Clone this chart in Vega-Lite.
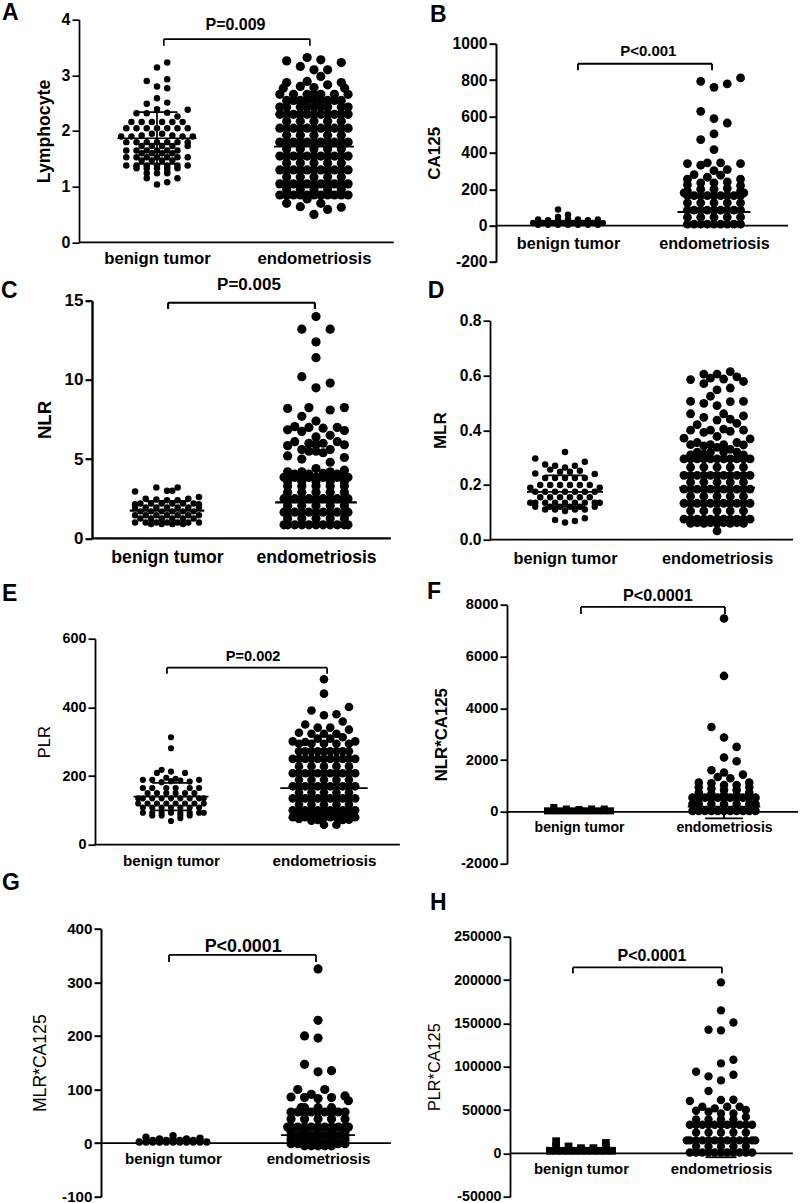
{"$schema":"https://vega.github.io/schema/vega-lite/v6.json","padding":{"left":0,"top":1.7,"right":0,"bottom":0},"background":"white","spacing":25,
"config":{"view":{"stroke":null},"axis":{"grid":false,"labelFont":"Liberation Sans","titleFont":"Liberation Sans","labelFontWeight":"bold","titleFontWeight":"bold","labelColor":"black","titleColor":"black","domainColor":"black","tickColor":"black","labelOverlap":false,"labelFlush":false,"labelBound":false,"labelAngle":0,"tickSize":7,"labelPadding":2,"titleAngle":-90,"titleBaseline":"middle"},"text":{"font":"Liberation Sans","fontWeight":"bold","color":"black"},"circle":{"color":"black","opacity":1},"square":{"color":"black","opacity":1},"rule":{"color":"black"}},
"hconcat":[
{"bounds":"flush","spacing":0,"vconcat":[
{"width":324,"height":222.6,"encoding":{"x":{"field":"x","type":"quantitative","scale":{"domain":[-23.44,71.5],"nice":false,"zero":false},"axis":{"title":null,"domain":false,"ticks":false,"values":[0,46],"labelExpr":"datum.value==0?'benign tumor':'endometriosis'","labelFontSize":16.7,"labelPadding":8}},"y":{"field":"y","type":"quantitative","scale":{"domain":[0,4],"nice":false,"zero":false},"axis":{"title":"Lymphocyte","values":[0,1,2,3,4],"labelExpr":"''+datum.value","offset":-2,"titleX":-35,"titleFontSize":17.7,"labelFontSize":16,"domainWidth":1.7,"tickWidth":1.7}}},"layer":[
{"mark":{"type":"circle","size":42},"data":{"values":[{"x":3,"y":3.23},{"x":0,"y":3.14},{"x":-3,"y":2.9},{"x":3,"y":2.93},{"x":0,"y":2.8},{"x":3,"y":2.77},{"x":0,"y":2.59},{"x":-3,"y":2.49},{"x":3,"y":2.51},{"x":0,"y":2.39},{"x":9,"y":2.38},{"x":-6,"y":2.32},{"x":-3,"y":2.32},{"x":3,"y":2.33},{"x":6,"y":2.26},{"x":-7.5,"y":2.16},{"x":-4.5,"y":2.16},{"x":-1.5,"y":2.16},{"x":1.5,"y":2.16},{"x":4.5,"y":2.16},{"x":7.5,"y":2.16},{"x":-9,"y":2.05},{"x":-6,"y":2.05},{"x":-3,"y":2.05},{"x":0,"y":2.05},{"x":3,"y":2.05},{"x":6,"y":2.05},{"x":9,"y":2.05},{"x":-10.5,"y":1.9},{"x":-7.5,"y":1.9},{"x":-4.5,"y":1.92},{"x":-1.5,"y":1.95},{"x":1.5,"y":1.95},{"x":4.5,"y":1.92},{"x":7.5,"y":1.9},{"x":10.5,"y":1.9},{"x":-9,"y":1.8},{"x":-6,"y":1.8},{"x":-3,"y":1.8},{"x":0,"y":1.8},{"x":3,"y":1.8},{"x":6,"y":1.8},{"x":9,"y":1.8},{"x":-4.5,"y":1.73},{"x":-1.5,"y":1.73},{"x":1.5,"y":1.73},{"x":4.5,"y":1.73},{"x":9,"y":1.73},{"x":-9,"y":1.65},{"x":-6,"y":1.65},{"x":-3,"y":1.65},{"x":0,"y":1.65},{"x":3,"y":1.65},{"x":6,"y":1.65},{"x":-4.5,"y":1.6},{"x":-1.5,"y":1.6},{"x":1.5,"y":1.6},{"x":4.5,"y":1.6},{"x":-9,"y":1.53},{"x":-6,"y":1.53},{"x":-3,"y":1.53},{"x":0,"y":1.53},{"x":3,"y":1.53},{"x":6,"y":1.53},{"x":9,"y":1.53},{"x":-4.5,"y":1.47},{"x":-1.5,"y":1.47},{"x":1.5,"y":1.47},{"x":4.5,"y":1.47},{"x":-9,"y":1.38},{"x":-6,"y":1.38},{"x":-3,"y":1.38},{"x":0,"y":1.38},{"x":3,"y":1.38},{"x":6,"y":1.38},{"x":9,"y":1.38},{"x":-6,"y":1.33},{"x":-3,"y":1.33},{"x":0,"y":1.33},{"x":3,"y":1.33},{"x":6,"y":1.33},{"x":-3,"y":1.24},{"x":0,"y":1.24},{"x":3,"y":1.24},{"x":-3,"y":1.15},{"x":3,"y":1.27},{"x":6,"y":1.15},{"x":3,"y":1.08},{"x":0,"y":1.04}]}},
{"mark":{"type":"circle","size":85},"data":{"values":[{"x":38,"y":3.26},{"x":44,"y":3.32},{"x":48,"y":3.28},{"x":54,"y":3.23},{"x":42,"y":3.16},{"x":46,"y":3.1},{"x":50,"y":3.1},{"x":48,"y":2.98},{"x":44,"y":2.89},{"x":38,"y":2.87},{"x":54,"y":2.87},{"x":42,"y":2.8},{"x":46,"y":2.78},{"x":50,"y":2.83},{"x":37,"y":2.77},{"x":55,"y":2.77},{"x":36,"y":2.66},{"x":56,"y":2.66},{"x":40,"y":2.66},{"x":52,"y":2.66},{"x":44,"y":2.66},{"x":48,"y":2.66},{"x":46,"y":2.66},{"x":42,"y":2.55},{"x":50,"y":2.55},{"x":46,"y":2.55},{"x":38,"y":2.55},{"x":54,"y":2.55},{"x":44,"y":2.43},{"x":48,"y":2.43},{"x":42,"y":2.43},{"x":50,"y":2.43},{"x":38,"y":2.43},{"x":54,"y":2.43},{"x":46,"y":2.43},{"x":38,"y":0.7},{"x":42,"y":0.64},{"x":48,"y":0.7},{"x":50,"y":0.59},{"x":54,"y":0.63},{"x":46,"y":0.5},{"x":44,"y":0.78},{"x":40,"y":2.55},{"x":44,"y":2.55},{"x":48,"y":2.55},{"x":52,"y":2.55},{"x":36,"y":2.43},{"x":56,"y":2.43},
{"x":36,"y":0.85},{"x":38,"y":0.85},{"x":40,"y":0.85},{"x":42,"y":0.85},{"x":44,"y":0.85},{"x":46,"y":0.85},{"x":48,"y":0.85},{"x":50,"y":0.85},{"x":52,"y":0.85},{"x":54,"y":0.85},{"x":56,"y":0.85},
{"x":36,"y":1.05},{"x":38,"y":1.05},{"x":40,"y":1.05},{"x":42,"y":1.05},{"x":44,"y":1.05},{"x":46,"y":1.05},{"x":48,"y":1.05},{"x":50,"y":1.05},{"x":52,"y":1.05},{"x":54,"y":1.05},{"x":56,"y":1.05},
{"x":36,"y":1.3},{"x":38,"y":1.3},{"x":40,"y":1.3},{"x":42,"y":1.3},{"x":44,"y":1.3},{"x":46,"y":1.3},{"x":48,"y":1.3},{"x":50,"y":1.3},{"x":52,"y":1.3},{"x":54,"y":1.3},{"x":56,"y":1.3},
{"x":36,"y":1.55},{"x":38,"y":1.55},{"x":40,"y":1.55},{"x":42,"y":1.55},{"x":44,"y":1.55},{"x":46,"y":1.55},{"x":48,"y":1.55},{"x":50,"y":1.55},{"x":52,"y":1.55},{"x":54,"y":1.55},{"x":56,"y":1.55},
{"x":36,"y":1.8},{"x":38,"y":1.8},{"x":40,"y":1.8},{"x":42,"y":1.8},{"x":44,"y":1.8},{"x":46,"y":1.8},{"x":48,"y":1.8},{"x":50,"y":1.8},{"x":52,"y":1.8},{"x":54,"y":1.8},{"x":56,"y":1.8},
{"x":36,"y":2.05},{"x":38,"y":2.05},{"x":40,"y":2.05},{"x":42,"y":2.05},{"x":44,"y":2.05},{"x":46,"y":2.05},{"x":48,"y":2.05},{"x":50,"y":2.05},{"x":52,"y":2.05},{"x":54,"y":2.05},{"x":56,"y":2.05},
{"x":36,"y":2.3},{"x":38,"y":2.3},{"x":40,"y":2.3},{"x":42,"y":2.3},{"x":44,"y":2.3},{"x":46,"y":2.3},{"x":48,"y":2.3},{"x":50,"y":2.3},{"x":52,"y":2.3},{"x":54,"y":2.3},{"x":56,"y":2.3},
{"x":38,"y":0.95},{"x":42,"y":0.95},{"x":46,"y":0.95},{"x":50,"y":0.95},{"x":54,"y":0.95},{"x":38,"y":1.175},{"x":42,"y":1.175},{"x":46,"y":1.175},{"x":50,"y":1.175},{"x":54,"y":1.175},{"x":38,"y":1.425},{"x":42,"y":1.425},{"x":46,"y":1.425},{"x":50,"y":1.425},{"x":54,"y":1.425},{"x":38,"y":1.675},{"x":42,"y":1.675},{"x":46,"y":1.675},{"x":50,"y":1.675},{"x":54,"y":1.675},{"x":38,"y":1.925},{"x":42,"y":1.925},{"x":46,"y":1.925},{"x":50,"y":1.925},{"x":54,"y":1.925},{"x":38,"y":2.175},{"x":42,"y":2.175},{"x":46,"y":2.175},{"x":50,"y":2.175},{"x":54,"y":2.175}]}},
{"mark":{"type":"rule","strokeWidth":1.7},"encoding":{"x2":{"field":"x2"},"y2":{"field":"y2"}},"data":{"values":[{"x":-22.85,"x2":69.4,"y":0,"y2":0},{"x":-11.6,"x2":11.6,"y":1.87,"y2":1.87},{"x":-6,"x2":6,"y":2.34,"y2":2.34},{"x":-6,"x2":6,"y":1.41,"y2":1.41},{"x":0,"x2":0,"y":1.41,"y2":2.34},{"x":34.3,"x2":57.7,"y":1.72,"y2":1.72},{"x":2,"x2":44.8,"y":3.65,"y2":3.65},{"x":2,"x2":2,"y":3.65,"y2":3.53},{"x":44.8,"x2":44.8,"y":3.65,"y2":3.53}]}},
{"mark":{"type":"text","fontSize":16,"align":"center","baseline":"alphabetic"},"encoding":{"text":{"field":"t"}},"data":{"values":[{"x":23,"y":3.815,"t":"P=0.009"}]}},
{"mark":{"type":"text","fontSize":23,"align":"left","baseline":"alphabetic"},"encoding":{"text":{"field":"t"}},"data":{"values":[{"x":-45.4,"y":3.995,"t":"A"}]}}
]},
{"width":1,"height":57.4,"data":{"values":[{"t":""}]},"mark":{"type":"text"},"encoding":{"text":{"field":"t"}}},
{"width":324,"height":237.6,"encoding":{"x":{"field":"x","type":"quantitative","scale":{"domain":[-25.37,65.96],"nice":false,"zero":false},"axis":{"title":null,"domain":false,"ticks":false,"values":[0,42],"labelExpr":"datum.value==0?'benign tumor':'endometriosis'","labelFontSize":17.6,"labelPadding":10}},"y":{"field":"y","type":"quantitative","scale":{"domain":[0,15],"nice":false,"zero":false},"axis":{"title":"NLR","values":[0,5,10,15],"labelExpr":"''+datum.value","offset":-15,"titleX":-48,"titleFontSize":18.6,"labelFontSize":17,"domainWidth":2.4,"tickWidth":2.2}}},"layer":[
{"mark":{"type":"circle","size":42},"data":{"values":[{"x":-3,"y":3.2},{"x":3,"y":3.2},{"x":0,"y":3},{"x":1.5,"y":3},{"x":-9,"y":2.95},{"x":-9,"y":2.15},{"x":9,"y":2.6},{"x":-6,"y":2.5},{"x":6,"y":2.5},{"x":-3,"y":2.45},{"x":0,"y":2.4},{"x":3,"y":2.4},{"x":9,"y":2.15},{"x":-7.5,"y":2.2},{"x":-4.5,"y":2.2},{"x":-1.5,"y":2.2},{"x":1.5,"y":2.2},{"x":4.5,"y":2.2},{"x":7.5,"y":2.2},{"x":-9,"y":1.95},{"x":-6,"y":1.95},{"x":-3,"y":1.95},{"x":0,"y":1.95},{"x":3,"y":1.95},{"x":6,"y":1.95},{"x":9,"y":1.95},{"x":-7.5,"y":1.7},{"x":-4.5,"y":1.7},{"x":-1.5,"y":1.7},{"x":1.5,"y":1.7},{"x":4.5,"y":1.7},{"x":7.5,"y":1.7},{"x":-9,"y":1.45},{"x":-6,"y":1.45},{"x":-3,"y":1.45},{"x":0,"y":1.45},{"x":3,"y":1.45},{"x":6,"y":1.45},{"x":9,"y":1.45},{"x":-7.5,"y":1.25},{"x":-4.5,"y":1.25},{"x":-1.5,"y":1.25},{"x":1.5,"y":1.25},{"x":4.5,"y":1.25},{"x":7.5,"y":1.25},{"x":-9,"y":1},{"x":-6,"y":1},{"x":-3,"y":1},{"x":0,"y":1},{"x":3,"y":1},{"x":6,"y":1},{"x":9,"y":1},{"x":-4.5,"y":0.9},{"x":-1.5,"y":0.9},{"x":1.5,"y":0.9},{"x":4.5,"y":0.9}]}},
{"mark":{"type":"circle","size":85},"data":{"values":[{"x":42,"y":14},{"x":38,"y":13.2},{"x":46,"y":13.2},{"x":42,"y":12.4},{"x":42,"y":11.4},{"x":38,"y":10.2},{"x":46,"y":9.8},{"x":42,"y":9.5},{"x":34,"y":8.2},{"x":40,"y":8.25},{"x":46,"y":8.1},{"x":50,"y":8.25},{"x":38,"y":7.7},{"x":42,"y":7.4},{"x":36,"y":7.05},{"x":34,"y":6.85},{"x":40,"y":7},{"x":44,"y":6.95},{"x":48,"y":7},{"x":50,"y":6.8},{"x":38,"y":6.75},{"x":46,"y":6.5},{"x":42,"y":6.4},{"x":36,"y":6.1},{"x":48,"y":6.1},{"x":40,"y":6},{"x":44,"y":6},{"x":34,"y":5.85},{"x":50,"y":5.9},{"x":42,"y":5.9},{"x":38,"y":5.6},{"x":46,"y":5.6},{"x":44,"y":5.4},{"x":40,"y":5.5},{"x":34,"y":5.2},{"x":50,"y":5.1},{"x":42,"y":5.5},{"x":38,"y":5},{"x":46,"y":4.8},{"x":34,"y":4.2},{"x":38,"y":4.2},{"x":42,"y":4.4},{"x":46,"y":4.2},{"x":50,"y":4.3},{"x":36,"y":4.05},{"x":40,"y":4.05},{"x":44,"y":4.1},{"x":48,"y":4.05},
{"x":33,"y":0.85},{"x":34,"y":0.85},{"x":36,"y":0.85},{"x":38,"y":0.85},{"x":40,"y":0.85},{"x":42,"y":0.85},{"x":44,"y":0.85},{"x":46,"y":0.85},{"x":48,"y":0.85},{"x":50,"y":0.85},{"x":51,"y":0.85},
{"x":33,"y":1.65},{"x":34,"y":1.65},{"x":36,"y":1.65},{"x":38,"y":1.65},{"x":40,"y":1.65},{"x":42,"y":1.65},{"x":44,"y":1.65},{"x":46,"y":1.65},{"x":48,"y":1.65},{"x":50,"y":1.65},{"x":51,"y":1.65},
{"x":33,"y":2.5},{"x":34,"y":2.5},{"x":36,"y":2.5},{"x":38,"y":2.5},{"x":40,"y":2.5},{"x":42,"y":2.5},{"x":44,"y":2.5},{"x":46,"y":2.5},{"x":48,"y":2.5},{"x":50,"y":2.5},{"x":51,"y":2.5},
{"x":33,"y":3.85},{"x":34,"y":3.85},{"x":36,"y":3.85},{"x":38,"y":3.85},{"x":40,"y":3.85},{"x":42,"y":3.85},{"x":44,"y":3.85},{"x":46,"y":3.85},{"x":48,"y":3.85},{"x":50,"y":3.85},{"x":51,"y":3.85},
{"x":34,"y":1.25},{"x":38,"y":1.25},{"x":42,"y":1.25},{"x":46,"y":1.25},{"x":50,"y":1.25},{"x":34,"y":2.05},{"x":38,"y":2.05},{"x":42,"y":2.05},{"x":46,"y":2.05},{"x":50,"y":2.05},{"x":34,"y":2.9},{"x":38,"y":2.9},{"x":42,"y":2.9},{"x":46,"y":2.9},{"x":50,"y":2.9},{"x":34,"y":3.3},{"x":38,"y":3.3},{"x":42,"y":3.3},{"x":46,"y":3.3},{"x":50,"y":3.3},{"x":34,"y":3.6},{"x":38,"y":3.6},{"x":42,"y":3.6},{"x":46,"y":3.6},{"x":50,"y":3.6}]}},
{"mark":{"type":"rule","strokeWidth":2.2},"encoding":{"x2":{"field":"x2"},"y2":{"field":"y2"}},"data":{"values":[{"x":-21.1,"x2":63.1,"y":0,"y2":0},{"x":-10.5,"x2":10.5,"y":1.75,"y2":1.75},{"x":-6,"x2":6,"y":2.35,"y2":2.35},{"x":30.5,"x2":53.5,"y":2.27,"y2":2.27},{"x":0.3,"x2":41.7,"y":14.87,"y2":14.87},{"x":0.3,"x2":0.3,"y":14.87,"y2":14.48},{"x":41.7,"x2":41.7,"y":14.87,"y2":14.48}]}},
{"mark":{"type":"text","fontSize":17,"align":"center","baseline":"alphabetic"},"encoding":{"text":{"field":"t"}},"data":{"values":[{"x":23.1,"y":15.67,"t":"P=0.005"}]}},
{"mark":{"type":"text","fontSize":23,"align":"left","baseline":"alphabetic"},"encoding":{"text":{"field":"t"}},"data":{"values":[{"x":-46.8,"y":15.17,"t":"C"}]}}
]},
{"width":1,"height":99.7,"data":{"values":[{"t":""}]},"mark":{"type":"text"},"encoding":{"text":{"field":"t"}}},
{"width":324,"height":206,"encoding":{"x":{"field":"x","type":"quantitative","scale":{"domain":[-30.1,73.67],"nice":false,"zero":false},"axis":{"title":null,"domain":false,"ticks":false,"values":[0,49],"labelExpr":"datum.value==0?'benign tumor':'endometriosis'","labelFontSize":15.2,"labelPadding":9}},"y":{"field":"y","type":"quantitative","scale":{"domain":[0,600],"nice":false,"zero":false},"axis":{"title":"PLR","values":[0,200,400,600],"labelExpr":"''+datum.value","offset":-18,"titleX":-51,"titleFontSize":16.5,"titleFontWeight":"normal","labelFontSize":14.4,"domainWidth":1.8,"tickWidth":1.8}}},"layer":[
{"mark":{"type":"circle","size":38},"data":{"values":[{"x":0,"y":313},{"x":0,"y":281},{"x":-3,"y":218},{"x":-4.5,"y":209},{"x":0,"y":213},{"x":4.5,"y":209},{"x":-9,"y":189},{"x":-6,"y":189},{"x":9,"y":189},{"x":-1.5,"y":195},{"x":1.5,"y":192},{"x":6,"y":184},{"x":3,"y":187},{"x":-3,"y":182},{"x":0,"y":185},{"x":-9,"y":165},{"x":-6,"y":165},{"x":-1.5,"y":165},{"x":1.5,"y":165},{"x":6,"y":165},{"x":9,"y":165},{"x":-7.5,"y":150},{"x":-4.5,"y":150},{"x":-1.5,"y":150},{"x":1.5,"y":150},{"x":4.5,"y":150},{"x":7.5,"y":150},{"x":-10.5,"y":135},{"x":-9,"y":135},{"x":-6,"y":135},{"x":-3,"y":135},{"x":0,"y":135},{"x":3,"y":135},{"x":6,"y":135},{"x":9,"y":135},{"x":10.5,"y":135},{"x":-10.5,"y":120},{"x":-7.5,"y":120},{"x":-4.5,"y":120},{"x":-1.5,"y":120},{"x":1.5,"y":120},{"x":4.5,"y":120},{"x":7.5,"y":120},{"x":10.5,"y":120},{"x":-9,"y":108},{"x":-6,"y":108},{"x":-3,"y":108},{"x":0,"y":108},{"x":3,"y":108},{"x":6,"y":108},{"x":9,"y":108},{"x":-9,"y":93},{"x":-6,"y":93},{"x":-3,"y":93},{"x":0,"y":93},{"x":3,"y":93},{"x":6,"y":93},{"x":9,"y":93},{"x":10.5,"y":93},{"x":-6,"y":85},{"x":-3,"y":85},{"x":3,"y":85},{"x":6,"y":85},{"x":0,"y":69},{"x":3,"y":77}]}},
{"mark":{"type":"circle","size":74},"data":{"values":[{"x":49,"y":482},{"x":49,"y":440},{"x":45,"y":391},{"x":57,"y":401},{"x":49,"y":377},{"x":53,"y":380},{"x":55,"y":359},{"x":43,"y":350},{"x":47,"y":341},{"x":51,"y":341},{"x":57,"y":335},{"x":41,"y":326},{"x":45,"y":323},{"x":53,"y":323},{"x":49,"y":323},{"x":55,"y":313},{"x":51,"y":309},{"x":47,"y":309},{"x":39,"y":301},{"x":43,"y":299},{"x":59,"y":301},{"x":57,"y":294},{"x":41,"y":294},{"x":45,"y":294},{"x":53,"y":294},{"x":49,"y":294},{"x":45,"y":70},{"x":49,"y":58},{"x":53,"y":58},{"x":41,"y":75},{"x":57,"y":73},{"x":47,"y":72},{"x":55,"y":72},{"x":43,"y":272},{"x":47,"y":272},{"x":51,"y":272},{"x":55,"y":272},
{"x":39,"y":80},{"x":41,"y":80},{"x":43,"y":80},{"x":45,"y":80},{"x":47,"y":80},{"x":49,"y":80},{"x":51,"y":80},{"x":53,"y":80},{"x":55,"y":80},{"x":57,"y":80},{"x":59,"y":80},
{"x":39,"y":100},{"x":41,"y":100},{"x":43,"y":100},{"x":45,"y":100},{"x":47,"y":100},{"x":49,"y":100},{"x":51,"y":100},{"x":53,"y":100},{"x":55,"y":100},{"x":57,"y":100},{"x":59,"y":100},
{"x":39,"y":135},{"x":41,"y":135},{"x":43,"y":135},{"x":45,"y":135},{"x":47,"y":135},{"x":49,"y":135},{"x":51,"y":135},{"x":53,"y":135},{"x":55,"y":135},{"x":57,"y":135},{"x":59,"y":135},
{"x":39,"y":170},{"x":41,"y":170},{"x":43,"y":170},{"x":45,"y":170},{"x":47,"y":170},{"x":49,"y":170},{"x":51,"y":170},{"x":53,"y":170},{"x":55,"y":170},{"x":57,"y":170},{"x":59,"y":170},
{"x":39,"y":208},{"x":41,"y":208},{"x":43,"y":208},{"x":45,"y":208},{"x":47,"y":208},{"x":49,"y":208},{"x":51,"y":208},{"x":53,"y":208},{"x":55,"y":208},{"x":57,"y":208},{"x":59,"y":208},
{"x":39,"y":250},{"x":41,"y":250},{"x":43,"y":250},{"x":45,"y":250},{"x":47,"y":250},{"x":49,"y":250},{"x":51,"y":250},{"x":53,"y":250},{"x":55,"y":250},{"x":57,"y":250},{"x":59,"y":250},
{"x":41,"y":90},{"x":45,"y":90},{"x":49,"y":90},{"x":53,"y":90},{"x":57,"y":90},{"x":41,"y":117},{"x":45,"y":117},{"x":49,"y":117},{"x":53,"y":117},{"x":57,"y":117},{"x":41,"y":152},{"x":45,"y":152},{"x":49,"y":152},{"x":53,"y":152},{"x":57,"y":152},{"x":41,"y":189},{"x":45,"y":189},{"x":49,"y":189},{"x":53,"y":189},{"x":57,"y":189},{"x":41,"y":228},{"x":45,"y":228},{"x":49,"y":228},{"x":53,"y":228},{"x":57,"y":228},{"x":41,"y":272},{"x":45,"y":272},{"x":49,"y":272},{"x":53,"y":272},{"x":57,"y":272}]}},
{"mark":{"type":"rule","strokeWidth":1.8},"encoding":{"x2":{"field":"x2"},"y2":{"field":"y2"}},"data":{"values":[{"x":-24.3,"x2":73.3,"y":0,"y2":0},{"x":-12,"x2":12,"y":140,"y2":140},{"x":-6,"x2":6,"y":180,"y2":180},{"x":-6,"x2":6,"y":100,"y2":100},{"x":35,"x2":63,"y":165,"y2":165},{"x":-1.3,"x2":50,"y":515.6,"y2":515.6},{"x":-1.3,"x2":-1.3,"y":515.6,"y2":498},{"x":50,"x2":50,"y":515.6,"y2":498}]}},
{"mark":{"type":"text","fontSize":14.6,"align":"center","baseline":"alphabetic"},"encoding":{"text":{"field":"t"}},"data":{"values":[{"x":26.3,"y":536,"t":"P=0.002"}]}},
{"mark":{"type":"text","fontSize":23,"align":"left","baseline":"alphabetic"},"encoding":{"text":{"field":"t"}},"data":{"values":[{"x":-54.1,"y":710.7,"t":"E"}]}}
]},
{"width":1,"height":83.7,"data":{"values":[{"t":""}]},"mark":{"type":"text"},"encoding":{"text":{"field":"t"}}},
{"width":324,"height":268,"encoding":{"x":{"field":"x","type":"quantitative","scale":{"domain":[-28.47,67.6],"nice":false,"zero":false},"axis":{"title":null,"domain":false,"ticks":false,"values":[0,43],"labelExpr":"datum.value==0?'benign tumor':'endometriosis'","labelFontSize":15.2,"labelPadding":9,"offset":-53.7}},"y":{"field":"y","type":"quantitative","scale":{"domain":[-100,400],"nice":false,"zero":false},"axis":{"title":"MLR*CA125","values":[-100,0,100,200,300,400],"labelExpr":"''+datum.value","offset":-24,"titleX":-61,"titleFontSize":17.6,"titleFontWeight":"normal","labelFontSize":15.2,"domainWidth":2,"tickWidth":2}}},"layer":[
{"mark":{"type":"circle","size":55},"data":{"values":[{"x":0,"y":14},{"x":-8,"y":11},{"x":-4,"y":7.5},{"x":4,"y":7.5},{"x":8,"y":9},{"x":-10,"y":2},{"x":-8,"y":2},{"x":-6,"y":2},{"x":-4,"y":2},{"x":-2,"y":2},{"x":0,"y":2},{"x":2,"y":2},{"x":4,"y":2},{"x":6,"y":2},{"x":8,"y":2},{"x":10,"y":2},{"x":-2,"y":5},{"x":2,"y":5},{"x":0,"y":7},{"x":-6,"y":5},{"x":6,"y":5}]}},
{"mark":{"type":"circle","size":85},"data":{"values":[{"x":43,"y":325},{"x":43,"y":229},{"x":39,"y":200},{"x":43,"y":196},{"x":39,"y":147},{"x":43,"y":133},{"x":47,"y":135},{"x":37,"y":100},{"x":45,"y":100},{"x":41,"y":91},{"x":51,"y":88},{"x":35,"y":86},{"x":39,"y":85},{"x":43,"y":83},{"x":47,"y":85},{"x":52,"y":79},{"x":38,"y":66},{"x":39,"y":66},{"x":43,"y":66},{"x":47,"y":66},{"x":41,"y":-5},{"x":43,"y":-5},{"x":45,"y":-5},{"x":39,"y":-5},{"x":47,"y":-5},
{"x":35,"y":-1},{"x":37,"y":-1},{"x":39,"y":-1},{"x":41,"y":-1},{"x":43,"y":-1},{"x":45,"y":-1},{"x":47,"y":-1},{"x":49,"y":-1},{"x":51,"y":-1},
{"x":35,"y":14},{"x":37,"y":14},{"x":39,"y":14},{"x":41,"y":14},{"x":43,"y":14},{"x":45,"y":14},{"x":47,"y":14},{"x":49,"y":14},{"x":51,"y":14},
{"x":34,"y":30},{"x":35,"y":30},{"x":37,"y":30},{"x":39,"y":30},{"x":41,"y":30},{"x":43,"y":30},{"x":45,"y":30},{"x":47,"y":30},{"x":49,"y":30},{"x":51,"y":30},{"x":52,"y":30},
{"x":35,"y":58},{"x":37,"y":58},{"x":39,"y":58},{"x":41,"y":58},{"x":43,"y":58},{"x":45,"y":58},{"x":47,"y":58},{"x":49,"y":58},{"x":51,"y":58},
{"x":35,"y":6},{"x":39,"y":6},{"x":43,"y":6},{"x":47,"y":6},{"x":51,"y":6},{"x":35,"y":22},{"x":39,"y":22},{"x":43,"y":22},{"x":47,"y":22},{"x":51,"y":22},{"x":35,"y":45},{"x":39,"y":45},{"x":43,"y":45},{"x":47,"y":45},{"x":51,"y":45}]}},
{"mark":{"type":"rule","strokeWidth":1.8},"encoding":{"x2":{"field":"x2"},"y2":{"field":"y2"}},"data":{"values":[{"x":-21.35,"x2":64.6,"y":0,"y2":0},{"x":-10,"x2":10,"y":2,"y2":2},{"x":32,"x2":54,"y":15,"y2":15},{"x":-1.2,"x2":42.4,"y":351,"y2":351},{"x":-1.2,"x2":-1.2,"y":351,"y2":338},{"x":42.4,"x2":42.4,"y":351,"y2":338}]}},
{"mark":{"type":"text","fontSize":17.9,"align":"center","baseline":"alphabetic"},"encoding":{"text":{"field":"t"}},"data":{"values":[{"x":20.8,"y":356,"t":"P<0.0001"}]}},
{"mark":{"type":"text","fontSize":23,"align":"left","baseline":"alphabetic"},"encoding":{"text":{"field":"t"}},"data":{"values":[{"x":-50.7,"y":472,"t":"G"}]}}
]}
]},
{"bounds":"flush","spacing":0,"vconcat":[
{"width":1,"height":23.3,"data":{"values":[{"t":""}]},"mark":{"type":"text"},"encoding":{"text":{"field":"t"}}},
{"width":312,"height":218.3,"encoding":{"x":{"field":"x","type":"quantitative","scale":{"domain":[-24.11,69.92],"nice":false,"zero":false},"axis":{"title":null,"domain":false,"ticks":false,"values":[0,44],"labelExpr":"datum.value==0?'benign tumor':'endometriosis'","labelFontSize":16.2,"labelPadding":10,"offset":-36.3}},"y":{"field":"y","type":"quantitative","scale":{"domain":[-200,1000],"nice":false,"zero":false},"axis":{"title":"CA125","values":[-200,0,200,400,600,800,1000],"labelExpr":"''+datum.value","offset":-8,"titleX":-61,"titleFontSize":17,"labelFontSize":15.7,"domainWidth":2,"tickWidth":2}}},"layer":[
{"mark":{"type":"circle","size":42},"data":{"values":[{"x":-3,"y":88},{"x":0,"y":60},{"x":-3,"y":48},{"x":-9,"y":33},{"x":-6,"y":29},{"x":0,"y":33},{"x":3,"y":33},{"x":6,"y":29},{"x":9,"y":33},{"x":-3,"y":30},{"x":-10.5,"y":14},{"x":-7.5,"y":14},{"x":-4.5,"y":14},{"x":-1.5,"y":14},{"x":1.5,"y":14},{"x":4.5,"y":14},{"x":7.5,"y":14},{"x":10.5,"y":14},{"x":-9,"y":5},{"x":-6,"y":5},{"x":-3,"y":5},{"x":0,"y":5},{"x":3,"y":5},{"x":6,"y":5},{"x":9,"y":5}]}},
{"mark":{"type":"circle","size":78},"data":{"values":[{"x":40,"y":793},{"x":44,"y":760},{"x":48,"y":779},{"x":52,"y":812},{"x":40,"y":628},{"x":44,"y":588},{"x":48,"y":564},{"x":44,"y":504},{"x":40,"y":473},{"x":44,"y":418},{"x":36,"y":341},{"x":40,"y":332},{"x":42,"y":345},{"x":46,"y":345},{"x":52,"y":341},{"x":44,"y":302},{"x":48,"y":308},{"x":38,"y":280},{"x":46,"y":277},{"x":42,"y":266},
{"x":36,"y":255},{"x":36,"y":225},{"x":36,"y":190},{"x":40,"y":235},{"x":40,"y":200},{"x":44,"y":235},{"x":44,"y":200},{"x":48,"y":240},{"x":48,"y":205},{"x":52,"y":255},{"x":52,"y":220},{"x":52,"y":190},{"x":35,"y":180},{"x":53,"y":180},
{"x":36,"y":8},{"x":38,"y":8},{"x":40,"y":8},{"x":42,"y":8},{"x":44,"y":8},{"x":46,"y":8},{"x":48,"y":8},{"x":50,"y":8},{"x":52,"y":8},
{"x":36,"y":85},{"x":38,"y":85},{"x":40,"y":85},{"x":42,"y":85},{"x":44,"y":85},{"x":46,"y":85},{"x":48,"y":85},{"x":50,"y":85},{"x":52,"y":85},
{"x":36,"y":165},{"x":38,"y":165},{"x":40,"y":165},{"x":42,"y":165},{"x":44,"y":165},{"x":46,"y":165},{"x":48,"y":165},{"x":50,"y":165},{"x":52,"y":165},
{"x":36,"y":46},{"x":40,"y":46},{"x":44,"y":46},{"x":48,"y":46},{"x":52,"y":46},{"x":36,"y":125},{"x":40,"y":125},{"x":44,"y":125},{"x":48,"y":125},{"x":52,"y":125}]}},
{"mark":{"type":"rule","strokeWidth":1.9},"encoding":{"x2":{"field":"x2"},"y2":{"field":"y2"}},"data":{"values":[{"x":-21.7,"x2":66.3,"y":0,"y2":0},{"x":-11,"x2":11,"y":18,"y2":18},{"x":33,"x2":55,"y":75,"y2":75},{"x":3,"x2":43.4,"y":890,"y2":890},{"x":3,"x2":3,"y":890,"y2":854},{"x":43.4,"x2":43.4,"y":890,"y2":854}]}},
{"mark":{"type":"text","fontSize":15,"align":"center","baseline":"alphabetic"},"encoding":{"text":{"field":"t"}},"data":{"values":[{"x":24.2,"y":931,"t":"P<0.001"}]}},
{"mark":{"type":"text","fontSize":23,"align":"left","baseline":"alphabetic"},"encoding":{"text":{"field":"t"}},"data":{"values":[{"x":-41.6,"y":1121,"t":"B"}]}}
]},
{"width":1,"height":57.7,"data":{"values":[{"t":""}]},"mark":{"type":"text"},"encoding":{"text":{"field":"t"}}},
{"width":312,"height":219,"encoding":{"x":{"field":"x","type":"quantitative","scale":{"domain":[-23.3,71.1],"nice":false,"zero":false},"axis":{"title":null,"domain":false,"ticks":false,"values":[0,46],"labelExpr":"datum.value==0?'benign tumor':'endometriosis'","labelFontSize":16.3,"labelPadding":11}},"y":{"field":"y","type":"quantitative","scale":{"domain":[0,0.8],"nice":false,"zero":false},"axis":{"title":"MLR","values":[0,0.2,0.4,0.6,0.8],"labelExpr":"format(datum.value,'.1f')","offset":-2,"titleX":-49,"titleFontSize":17,"labelFontSize":15.6,"domainWidth":1.8,"tickWidth":1.8}}},"layer":[
{"mark":{"type":"circle","size":42},"data":{"values":[{"x":0,"y":0.32},{"x":-9,"y":0.297},{"x":6,"y":0.285},{"x":-6,"y":0.275},{"x":-3,"y":0.27},{"x":3,"y":0.27},{"x":0,"y":0.264},{"x":-4.5,"y":0.256},{"x":4.5,"y":0.252},{"x":-1.5,"y":0.248},{"x":1.5,"y":0.248},{"x":-9,"y":0.242},{"x":9,"y":0.24},{"x":-6,"y":0.225},{"x":-3,"y":0.225},{"x":0,"y":0.225},{"x":3,"y":0.225},{"x":6,"y":0.225},{"x":-7.5,"y":0.2},{"x":-4.5,"y":0.2},{"x":-1.5,"y":0.2},{"x":1.5,"y":0.2},{"x":4.5,"y":0.2},{"x":7.5,"y":0.2},{"x":-10.5,"y":0.19},{"x":10.5,"y":0.19},{"x":-9,"y":0.175},{"x":-6,"y":0.175},{"x":-3,"y":0.175},{"x":0,"y":0.175},{"x":3,"y":0.175},{"x":6,"y":0.175},{"x":9,"y":0.175},{"x":-7.5,"y":0.155},{"x":-4.5,"y":0.155},{"x":-1.5,"y":0.155},{"x":1.5,"y":0.155},{"x":4.5,"y":0.155},{"x":7.5,"y":0.155},{"x":-10.5,"y":0.135},{"x":-9,"y":0.135},{"x":-6,"y":0.135},{"x":-3,"y":0.135},{"x":0,"y":0.135},{"x":3,"y":0.135},{"x":6,"y":0.135},{"x":9,"y":0.135},{"x":10.5,"y":0.135},{"x":-9,"y":0.12},{"x":-4.5,"y":0.12},{"x":-1.5,"y":0.12},{"x":1.5,"y":0.12},{"x":4.5,"y":0.12},{"x":9,"y":0.12},{"x":-6,"y":0.11},{"x":-3,"y":0.11},{"x":0,"y":0.105},{"x":3,"y":0.11},{"x":6,"y":0.11},{"x":-3,"y":0.072},{"x":0,"y":0.063},{"x":3,"y":0.068},{"x":6,"y":0.078}]}},
{"mark":{"type":"circle","size":78},"data":{"values":[{"x":38,"y":0.585},{"x":42,"y":0.605},{"x":46,"y":0.605},{"x":50,"y":0.614},{"x":44,"y":0.59},{"x":48,"y":0.587},{"x":52,"y":0.595},{"x":54,"y":0.578},{"x":42,"y":0.57},{"x":46,"y":0.547},{"x":50,"y":0.554},{"x":44,"y":0.524},{"x":38,"y":0.505},{"x":42,"y":0.498},{"x":46,"y":0.49},{"x":50,"y":0.504},{"x":54,"y":0.505},{"x":38,"y":0.46},{"x":42,"y":0.447},{"x":46,"y":0.437},{"x":48,"y":0.46},{"x":50,"y":0.44},{"x":54,"y":0.452},{"x":40,"y":0.42},{"x":52,"y":0.425},{"x":38,"y":0.4},{"x":42,"y":0.392},{"x":44,"y":0.4},{"x":48,"y":0.404},{"x":50,"y":0.396},{"x":54,"y":0.4},{"x":46,"y":0.377},{"x":36,"y":0.371},{"x":56,"y":0.368},{"x":40,"y":0.355},{"x":38,"y":0.347},{"x":42,"y":0.343},{"x":44,"y":0.347},{"x":52,"y":0.355},{"x":54,"y":0.346},{"x":48,"y":0.347},{"x":46,"y":0.337},{"x":50,"y":0.33},{"x":42,"y":0.313},{"x":38,"y":0.31},{"x":54,"y":0.31},{"x":46,"y":0.032},{"x":40,"y":0.32},{"x":44,"y":0.32},{"x":48,"y":0.32},{"x":52,"y":0.32},
{"x":38,"y":0.06},{"x":42,"y":0.06},{"x":46,"y":0.06},{"x":50,"y":0.06},{"x":54,"y":0.06},{"x":40,"y":0.062},{"x":44,"y":0.062},{"x":48,"y":0.062},{"x":52,"y":0.062},
{"x":36,"y":0.075},{"x":38,"y":0.075},{"x":40,"y":0.075},{"x":42,"y":0.075},{"x":44,"y":0.075},{"x":46,"y":0.075},{"x":48,"y":0.075},{"x":50,"y":0.075},{"x":52,"y":0.075},{"x":54,"y":0.075},{"x":56,"y":0.075},
{"x":36,"y":0.133},{"x":38,"y":0.133},{"x":40,"y":0.133},{"x":42,"y":0.133},{"x":44,"y":0.133},{"x":46,"y":0.133},{"x":48,"y":0.133},{"x":50,"y":0.133},{"x":52,"y":0.133},{"x":54,"y":0.133},{"x":56,"y":0.133},
{"x":36,"y":0.185},{"x":38,"y":0.185},{"x":40,"y":0.185},{"x":42,"y":0.185},{"x":44,"y":0.185},{"x":46,"y":0.185},{"x":48,"y":0.185},{"x":50,"y":0.185},{"x":52,"y":0.185},{"x":54,"y":0.185},{"x":56,"y":0.185},
{"x":36,"y":0.235},{"x":38,"y":0.235},{"x":40,"y":0.235},{"x":42,"y":0.235},{"x":44,"y":0.235},{"x":46,"y":0.235},{"x":48,"y":0.235},{"x":50,"y":0.235},{"x":52,"y":0.235},{"x":54,"y":0.235},{"x":56,"y":0.235},
{"x":36,"y":0.295},{"x":38,"y":0.295},{"x":40,"y":0.295},{"x":42,"y":0.295},{"x":44,"y":0.295},{"x":46,"y":0.295},{"x":48,"y":0.295},{"x":50,"y":0.295},{"x":52,"y":0.295},{"x":54,"y":0.295},{"x":56,"y":0.295},
{"x":38,"y":0.105},{"x":42,"y":0.105},{"x":46,"y":0.105},{"x":50,"y":0.105},{"x":54,"y":0.105},{"x":38,"y":0.158},{"x":42,"y":0.158},{"x":46,"y":0.158},{"x":50,"y":0.158},{"x":54,"y":0.158},{"x":38,"y":0.21},{"x":42,"y":0.21},{"x":46,"y":0.21},{"x":50,"y":0.21},{"x":54,"y":0.21},{"x":38,"y":0.265},{"x":42,"y":0.265},{"x":46,"y":0.265},{"x":50,"y":0.265},{"x":54,"y":0.265}]}},
{"mark":{"type":"rule","strokeWidth":1.8},"encoding":{"x2":{"field":"x2"},"y2":{"field":"y2"}},"data":{"values":[{"x":-22.7,"x2":69,"y":0,"y2":0},{"x":-11.5,"x2":11.5,"y":0.175,"y2":0.175},{"x":-6,"x2":6,"y":0.235,"y2":0.235},{"x":-6,"x2":6,"y":0.12,"y2":0.12},{"x":34.5,"x2":57.5,"y":0.19,"y2":0.19}]}},
{"mark":{"type":"text","fontSize":23,"align":"left","baseline":"alphabetic"},"encoding":{"text":{"field":"t"}},"data":{"values":[{"x":-41.5,"y":0.884,"t":"D"}]}}
]},
{"width":1,"height":65,"data":{"values":[{"t":""}]},"mark":{"type":"text"},"encoding":{"text":{"field":"t"}}},
{"width":312,"height":259,"encoding":{"x":{"field":"x","type":"quantitative","scale":{"domain":[-28.87,70.1],"nice":false,"zero":false},"axis":{"title":null,"domain":false,"ticks":false,"values":[0,46],"labelExpr":"datum.value==0?'benign tumor':'endometriosis'","labelFontSize":14.1,"labelPadding":9,"offset":-52}},"y":{"field":"y","type":"quantitative","scale":{"domain":[-2000,8000],"nice":false,"zero":false},"axis":{"title":"NLR*CA125","values":[-2000,0,2000,4000,6000,8000],"labelExpr":"''+datum.value","offset":-19,"titleX":-65,"titleFontSize":16.8,"labelFontSize":14.7,"domainWidth":1.8,"tickWidth":1.8}}},"layer":[
{"mark":{"type":"square","size":50},"data":{"values":[{"x":-10,"y":40},{"x":-8,"y":40},{"x":-6,"y":40},{"x":-4,"y":40},{"x":-2,"y":40},{"x":0,"y":40},{"x":2,"y":40},{"x":4,"y":40},{"x":6,"y":40},{"x":8,"y":40},{"x":10,"y":40},{"x":-8,"y":170},{"x":-4,"y":110},{"x":0,"y":90},{"x":4,"y":110},{"x":8,"y":110}]}},
{"mark":{"type":"circle","size":74},"data":{"values":[{"x":46,"y":7465},{"x":46,"y":5250},{"x":42,"y":3280},{"x":46,"y":2870},{"x":50,"y":2510},{"x":46,"y":2100},{"x":50,"y":1956},{"x":42,"y":1610},{"x":46,"y":1520},{"x":52,"y":1440},{"x":44,"y":1350},{"x":48,"y":1300},{"x":38,"y":1130},{"x":42,"y":1107},{"x":54,"y":1130},{"x":46,"y":1040},{"x":50,"y":1040},{"x":38,"y":950},{"x":38,"y":750},{"x":54,"y":950},{"x":54,"y":750},{"x":42,"y":900},{"x":42,"y":700},{"x":46,"y":850},{"x":46,"y":650},{"x":50,"y":850},{"x":50,"y":650},{"x":36,"y":300},{"x":56,"y":300},
{"x":36,"y":38},{"x":38,"y":38},{"x":40,"y":38},{"x":42,"y":38},{"x":44,"y":38},{"x":46,"y":38},{"x":48,"y":38},{"x":50,"y":38},{"x":52,"y":38},{"x":54,"y":38},{"x":56,"y":38},
{"x":36,"y":550},{"x":38,"y":550},{"x":40,"y":550},{"x":42,"y":550},{"x":44,"y":550},{"x":46,"y":550},{"x":48,"y":550},{"x":50,"y":550},{"x":52,"y":550},{"x":54,"y":550},{"x":56,"y":550},
{"x":38,"y":300},{"x":42,"y":300},{"x":46,"y":300},{"x":50,"y":300},{"x":54,"y":300}]}},
{"mark":{"type":"rule","strokeWidth":1.8},"encoding":{"x2":{"field":"x2"},"y2":{"field":"y2"}},"data":{"values":[{"x":-22.8,"x2":69.5,"y":0,"y2":0},{"x":34.5,"x2":57.5,"y":200,"y2":200},{"x":40,"x2":52,"y":-250,"y2":-250},{"x":46,"x2":46,"y":-250,"y2":650},{"x":0.6,"x2":46.3,"y":7915,"y2":7915},{"x":0.6,"x2":0.6,"y":7915,"y2":7645},{"x":46.3,"x2":46.3,"y":7915,"y2":7645}]}},
{"mark":{"type":"text","fontSize":16.2,"align":"center","baseline":"alphabetic"},"encoding":{"text":{"field":"t"}},"data":{"values":[{"x":25,"y":8147,"t":"P<0.0001"}]}},
{"mark":{"type":"text","fontSize":23,"align":"left","baseline":"alphabetic"},"encoding":{"text":{"field":"t"}},"data":{"values":[{"x":-48.2,"y":8224,"t":"F"}]}}
]},
{"width":1,"height":73,"data":{"values":[{"t":""}]},"mark":{"type":"text"},"encoding":{"text":{"field":"t"}}},
{"width":312,"height":260,"encoding":{"x":{"field":"x","type":"quantitative","scale":{"domain":[-29.89,70.4],"nice":false,"zero":false},"axis":{"title":null,"domain":false,"ticks":false,"values":[0,45],"labelExpr":"datum.value==0?'benign tumor':'endometriosis'","labelFontSize":14.9,"labelPadding":8,"offset":-43}},"y":{"field":"y","type":"quantitative","scale":{"domain":[-50000,250000],"nice":false,"zero":false},"axis":{"title":"PLR*CA125","values":[-50000,0,50000,100000,150000,200000,250000],"labelExpr":"''+datum.value","offset":-22,"titleX":-75,"titleFontSize":16.3,"titleFontWeight":"normal","labelFontSize":14.2,"domainWidth":1.8,"tickWidth":1.8}}},"layer":[
{"mark":{"type":"square","size":60},"data":{"values":[{"x":-10,"y":3000},{"x":-8,"y":3000},{"x":-6,"y":3000},{"x":-4,"y":3000},{"x":-2,"y":3000},{"x":0,"y":3000},{"x":2,"y":3000},{"x":4,"y":3000},{"x":6,"y":3000},{"x":8,"y":3000},{"x":10,"y":3000},{"x":-8,"y":14000},{"x":-8,"y":8000},{"x":-4,"y":8000},{"x":0,"y":6000},{"x":4,"y":6000},{"x":8,"y":12000},{"x":8,"y":6000}]}},
{"mark":{"type":"circle","size":70},"data":{"values":[{"x":45,"y":197300},{"x":45,"y":165000},{"x":49,"y":151000},{"x":41,"y":142700},{"x":45,"y":141900},{"x":49,"y":108000},{"x":45,"y":103800},{"x":37,"y":94200},{"x":41,"y":88800},{"x":49,"y":90700},{"x":45,"y":84200},{"x":41,"y":71900},{"x":35,"y":60400},{"x":45,"y":61500},{"x":49,"y":61900},{"x":39,"y":53800},{"x":37,"y":49200},{"x":43,"y":51900},{"x":47,"y":53800},{"x":51,"y":53800},{"x":53,"y":50000},{"x":41,"y":48000},{"x":45,"y":46000},{"x":49,"y":46000},{"x":37,"y":39000},{"x":53,"y":42000},{"x":41,"y":39000},{"x":45,"y":39000},{"x":49,"y":39000},
{"x":35,"y":1000},{"x":37,"y":1000},{"x":39,"y":1000},{"x":41,"y":1000},{"x":43,"y":1000},{"x":45,"y":1000},{"x":47,"y":1000},{"x":49,"y":1000},{"x":51,"y":1000},{"x":53,"y":1000},{"x":55,"y":1000},
{"x":34,"y":15000},{"x":35,"y":15000},{"x":37,"y":15000},{"x":39,"y":15000},{"x":41,"y":15000},{"x":43,"y":15000},{"x":45,"y":15000},{"x":47,"y":15000},{"x":49,"y":15000},{"x":51,"y":15000},{"x":53,"y":15000},{"x":55,"y":15000},{"x":56,"y":15000},
{"x":35,"y":33000},{"x":37,"y":33000},{"x":39,"y":33000},{"x":41,"y":33000},{"x":43,"y":33000},{"x":45,"y":33000},{"x":47,"y":33000},{"x":49,"y":33000},{"x":51,"y":33000},{"x":53,"y":33000},{"x":55,"y":33000},
{"x":37,"y":8000},{"x":41,"y":8000},{"x":45,"y":8000},{"x":49,"y":8000},{"x":53,"y":8000},{"x":37,"y":24000},{"x":41,"y":24000},{"x":45,"y":24000},{"x":49,"y":24000},{"x":53,"y":24000}]}},
{"mark":{"type":"rule","strokeWidth":1.8},"encoding":{"x2":{"field":"x2"},"y2":{"field":"y2"}},"data":{"values":[{"x":-22.8,"x2":68.1,"y":0,"y2":0},{"x":34,"x2":56,"y":14000,"y2":14000},{"x":40,"x2":50,"y":-4500,"y2":-4500},{"x":-2.6,"x2":45.3,"y":214600,"y2":214600},{"x":-2.6,"x2":-2.6,"y":214600,"y2":207700},{"x":45.3,"x2":45.3,"y":214600,"y2":207700}]}},
{"mark":{"type":"text","fontSize":16,"align":"center","baseline":"alphabetic"},"encoding":{"text":{"field":"t"}},"data":{"values":[{"x":22.8,"y":221500,"t":"P<0.0001"}]}},
{"mark":{"type":"text","fontSize":23,"align":"left","baseline":"alphabetic"},"encoding":{"text":{"field":"t"}},"data":{"values":[{"x":-48.5,"y":280300,"t":"H"}]}}
]}
]}
]}
